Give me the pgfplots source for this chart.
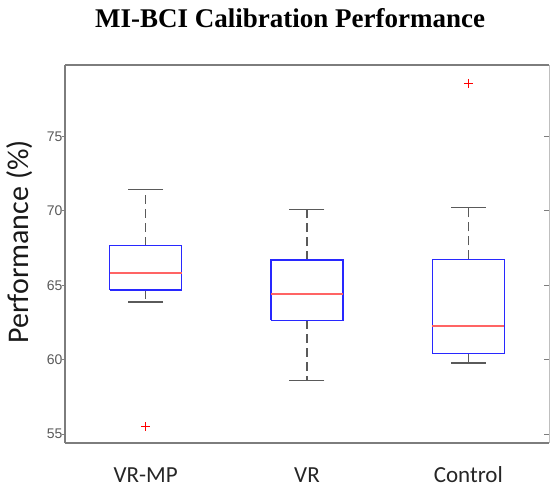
\documentclass[border=0pt]{standalone}
\usepackage{pgfplots}
\pgfplotsset{compat=1.18}
\usetikzlibrary{plotmarks}
\usepackage{fontspec}
\setmainfont{Liberation Sans}
\newfontfamily\titlefont{Liberation Serif}
\newfontfamily\labelfont{Carlito}
\definecolor{boxblue}{RGB}{40,40,255}
\definecolor{medred}{RGB}{255,100,100}
\definecolor{whisk}{RGB}{90,90,90}
\definecolor{spine}{RGB}{125,125,125}
\begin{document}
\begin{tikzpicture}
\pgfplotsset{
  common/.style={
    width=484pt, height=378pt, scale only axis,
    xmin=0.5, xmax=3.5, ymin=54.4, ymax=79.8,
    clip=false,
  },
  boxst/.style={draw=boxblue, line width=1.3pt, mark=none, solid},
  medst/.style={draw=medred, line width=1.6pt, mark=none, solid},
  whst/.style={draw=whisk, line width=1.3pt, mark=none, dash pattern=on 9pt off 5pt},
}
\begin{axis}[common,
  axis x line=bottom, axis y line=left,
  axis line style={-, draw=spine, line width=1.4pt},
  xtick={1,2,3}, xticklabels={VR-MP,VR,Control},
  ytick={55,60,65,70,75},
  tick align=outside,
  major tick length=3pt,
  x tick style={draw=none},
  y tick style={draw=spine, line width=1pt},
  xticklabel style={font=\labelfont\fontsize{23}{26}\selectfont, text=black!85, anchor=center, inner sep=0pt, yshift=-29pt},
  yticklabel style={font=\fontsize{14}{16}\selectfont, text=black!65, xshift=4pt},
  /pgf/number format/assume math mode=true,
  every axis y label/.style={at={(rel axis cs:-0.093,0.532)}, anchor=center, rotate=90,
     font=\labelfont\fontsize{30}{34}\selectfont, text=black!90},
  ylabel={Performance (\%)},
  every axis title/.style={at={(rel axis cs:0.465,1.124)}, anchor=center,
     font=\titlefont\bfseries\fontsize{27}{30}\selectfont},
  title={MI-BCI Calibration Performance},
]
\coordinate (bl) at (rel axis cs:0,0);
% ---- VR-MP: lower whisker 63.87, Q1 64.68, median 65.84, Q3 67.65, upper whisker 71.45
\addplot[whst] coordinates {(1,67.65) (1,71.45)};
\addplot[whst] coordinates {(1,64.68) (1,63.87)};
\addplot[boxst] coordinates {(0.7775,64.68) (1.2225,64.68) (1.2225,67.65) (0.7775,67.65) (0.7775,64.68)};
\addplot[medst] coordinates {(0.7775,65.84) (1.2225,65.84)};
% ---- VR: 58.58, 62.65, 64.41, 66.69, 70.10
\addplot[whst] coordinates {(2,66.69) (2,70.10)};
\addplot[whst] coordinates {(2,62.65) (2,58.58)};
\addplot[boxst] coordinates {(1.7775,62.65) (2.2225,62.65) (2.2225,66.69) (1.7775,66.69) (1.7775,62.65)};
\addplot[medst] coordinates {(1.7775,64.41) (2.2225,64.41)};
% ---- Control: 59.77, 60.40, 62.27, 66.74, 70.24
\addplot[whst] coordinates {(3,66.74) (3,70.24)};
\addplot[whst] coordinates {(3,60.40) (3,59.77)};
\addplot[boxst] coordinates {(2.7775,60.40) (3.2225,60.40) (3.2225,66.74) (2.7775,66.74) (2.7775,60.40)};
\addplot[medst] coordinates {(2.7775,62.27) (3.2225,62.27)};
% whisker caps
\addplot[only marks, mark=-, mark size=17.5pt, mark options={draw=whisk, line width=1.3pt, solid}]
  coordinates {(1,71.45) (1,63.87) (2,70.10) (2,58.58) (3,70.24) (3,59.77)};
% outliers
\addplot[only marks, mark=+, mark size=4.5pt, mark options={draw=red, line width=0.8pt, solid}]
  coordinates {(1,55.5) (3,78.57)};
\end{axis}
\begin{axis}[common,
  axis x line=top, axis y line=right,
  x axis line style={-, draw=spine, line width=1.4pt},
  y axis line style={-, draw=black!25, line width=0.6pt},
  xtick=\empty,
  ytick={55,60,65,70,75}, yticklabels={},
  tick align=inside,
  major tick length=5pt,
  y tick style={draw=spine, line width=1pt},
]
\end{axis}
\pgfresetboundingbox
\path (bl) ++(-65pt,-43pt) rectangle ++(550pt,486pt);
\end{tikzpicture}
\end{document}
